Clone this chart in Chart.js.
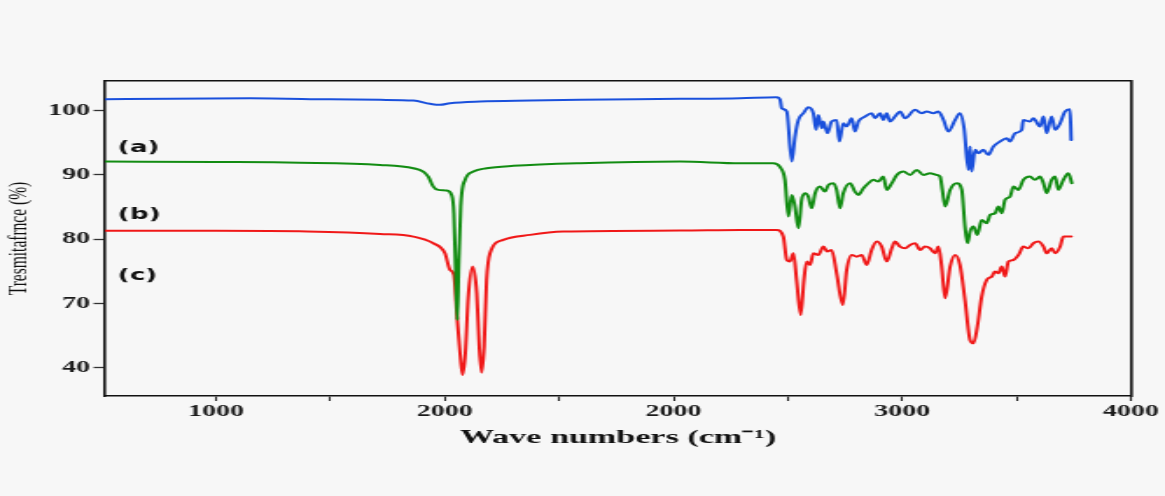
<!DOCTYPE html>
<html><head><meta charset="utf-8">
<script src="https://cdn.jsdelivr.net/npm/chart.js@4.4.1/dist/chart.umd.min.js"></script>
<style>
html,body{margin:0;padding:0;background:#f7f7f7;}
</style></head>
<body>
<canvas id="c" width="666" height="496" style="display:block;width:1165px;height:496px;"></canvas>
<script>
// ---- data (wavenumber axis units / transmittance axis units) ----
const blueX = [515, 800, 1150, 1500, 1717, 1863, 1936, 1979, 2023, 2154, 2373, 2591, 3029, 3291, 3451, 3466, 3473, 3495, 3517, 3531, 3546, 3568, 3589, 3611, 3623, 3633, 3648, 3655, 3673, 3691, 3713, 3725, 3742, 3757, 3779, 3793, 3808, 3837, 3866, 3881, 3903, 3917, 3932, 3946, 3968, 3990, 4012, 4056, 4085, 4107, 4136, 4158, 4180, 4201, 4231, 4252, 4270, 4289, 4296, 4303, 4318, 4333, 4354, 4376, 4398, 4427, 4456, 4471, 4493, 4522, 4529, 4558, 4573, 4602, 4617, 4631, 4653, 4668, 4690, 4711, 4733, 4738];
const blueY = [101.75, 101.85, 101.9, 101.75, 101.67, 101.56, 101.05, 100.89, 101.15, 101.41, 101.56, 101.67, 101.82, 101.93, 102.08, 101.67, 100.37, 99.85, 92.07, 95.96, 98.55, 99.59, 100.53, 99.59, 97.0, 99.33, 97.26, 98.29, 96.48, 98.29, 98.55, 95.18, 98.04, 97.52, 98.81, 96.74, 98.29, 99.07, 99.59, 98.81, 99.59, 98.55, 99.59, 98.29, 99.07, 99.85, 98.81, 100.11, 99.59, 99.85, 99.59, 99.85, 98.55, 96.74, 98.55, 99.59, 97.26, 90.77, 94.40, 90.51, 93.89, 93.37, 93.89, 93.11, 94.40, 95.18, 95.70, 95.18, 96.48, 97.0, 98.55, 98.29, 98.81, 97.52, 99.07, 96.48, 99.07, 97.0, 98.04, 99.85, 100.21, 95.44];

const greenX = [515, 1000, 1367, 1717, 1863, 1906, 1928, 1950, 1972, 2008, 2030, 2040, 2049, 2055, 2061, 2070, 2089, 2125, 2183, 2300, 2591, 3029, 3291, 3436, 3466, 3487, 3502, 3517, 3531, 3546, 3560, 3575, 3589, 3604, 3619, 3640, 3662, 3677, 3699, 3713, 3728, 3742, 3772, 3793, 3808, 3830, 3852, 3874, 3895, 3917, 3932, 3954, 3976, 4005, 4034, 4063, 4092, 4121, 4150, 4165, 4175, 4187, 4209, 4238, 4260, 4274, 4285, 4296, 4311, 4328, 4347, 4369, 4384, 4405, 4420, 4435, 4449, 4471, 4486, 4508, 4529, 4558, 4580, 4602, 4617, 4631, 4653, 4668, 4682, 4704, 4726, 4741];
const greenY = [92.06, 92.0, 91.9, 91.55, 91.03, 90.51, 89.73, 88.18, 87.66, 87.56, 86.88, 84.03, 73.65, 67.43, 75.73, 85.07, 89.22, 90.51, 91.03, 91.40, 91.81, 92.07, 91.81, 91.81, 91.19, 89.22, 83.51, 86.88, 85.07, 81.69, 86.10, 87.14, 86.62, 84.81, 87.14, 88.18, 87.40, 88.44, 88.70, 87.66, 84.81, 87.14, 88.70, 87.40, 86.88, 87.92, 88.70, 89.22, 88.96, 89.73, 87.66, 88.70, 89.99, 90.51, 89.99, 90.77, 89.99, 90.25, 89.99, 89.73, 87.66, 85.07, 87.66, 88.70, 87.66, 81.95, 79.36, 81.17, 81.95, 80.66, 82.99, 82.47, 83.77, 84.03, 85.07, 84.03, 86.10, 86.62, 88.18, 87.66, 89.22, 89.73, 89.22, 89.73, 88.70, 87.14, 89.22, 89.73, 87.66, 89.22, 90.25, 88.70];

const redX = [515, 1000, 1400, 1717, 1863, 1950, 2001, 2023, 2040, 2055, 2067, 2078, 2090, 2103, 2122, 2140, 2151, 2161, 2172, 2183, 2198, 2256, 2373, 2518, 3029, 3291, 3451, 3480, 3495, 3509, 3524, 3538, 3556, 3570, 3582, 3597, 3611, 3633, 3655, 3672, 3691, 3713, 3740, 3757, 3779, 3801, 3823, 3844, 3866, 3888, 3910, 3932, 3954, 3968, 3990, 4012, 4034, 4056, 4078, 4099, 4121, 4143, 4158, 4172, 4187, 4209, 4231, 4252, 4274, 4296, 4311, 4328, 4347, 4369, 4391, 4405, 4420, 4435, 4449, 4464, 4486, 4508, 4529, 4551, 4573, 4595, 4617, 4631, 4653, 4668, 4690, 4704, 4738];
const redY = [81.3, 81.3, 81.2, 80.81, 80.40, 79.36, 77.80, 75.21, 74.43, 67.43, 62.24, 58.87, 62.24, 71.06, 75.73, 71.58, 63.28, 59.23, 63.28, 73.65, 77.80, 79.88, 80.66, 81.17, 81.33, 81.43, 81.43, 80.40, 76.76, 76.51, 77.80, 73.65, 68.20, 73.65, 76.51, 75.99, 77.80, 77.54, 78.84, 78.06, 78.32, 74.69, 69.76, 75.21, 77.54, 77.28, 77.54, 75.99, 78.32, 79.62, 78.84, 76.51, 78.58, 79.62, 78.84, 78.58, 79.10, 79.36, 78.32, 78.84, 78.58, 77.80, 78.84, 75.73, 70.80, 75.73, 77.54, 75.99, 70.54, 64.31, 63.79, 66.39, 71.06, 73.65, 74.17, 74.95, 74.69, 75.73, 74.17, 76.51, 76.76, 77.54, 78.84, 78.58, 79.36, 79.62, 78.84, 77.80, 78.58, 77.80, 78.84, 80.40, 80.40];

const seriesTags = ['(a)', '(b)', '(c)'];
const xTickValues = [1000, 1500, 2000, 2500, 3000, 3500, 4000, 4500, 5000];
const xTickLabels = ['1000', '', '2000', '', '2000', '', '3000', '', '4000'];
const yTickValues = [60, 70, 80, 90, 100];
const yTickLabels = ['40', '70', '80', '90', '100'];
const xTitle = 'Wave numbers (cm\u207B\u00B9)';
const yTitle = 'Tresmitafrnce (%)';

// ---- chart ----
const serif = '"Liberation Serif", "Times New Roman", serif';
function mk(label, xs, ys, color) {
  return {
    label, data: xs.map((x, i) => ({x, y: ys[i]})),
    borderColor: color, borderWidth: 2, pointRadius: 0,
    cubicInterpolationMode: 'monotone', fill: false,
    borderJoinStyle: 'round', borderCapStyle: 'round',
    xAxisID: 'x', yAxisID: 'y'
  };
}
const tagPlugin = {
  id: 'tags',
  afterDatasetsDraw(chart) {
    const {ctx} = chart, x = chart.scales.x, y = chart.scales.y;
    const tagX = 571, tagY = [94.2, 83.8, 74.3];
    ctx.save();
    ctx.font = 'bold 15px "DejaVu Sans", sans-serif';
    ctx.fillStyle = '#111';
    ctx.textAlign = 'left';
    ctx.textBaseline = 'middle';
    seriesTags.forEach((t, i) => ctx.fillText(t, x.getPixelForValue(tagX), y.getPixelForValue(tagY[i])));
    ctx.restore();
  }
};
const frame = {color: '#111', width: 1.6};
new Chart(document.getElementById('c'), {
  type: 'line',
  data: {datasets: [
    mk(seriesTags[0], blueX, blueY, '#1a50dc'),
    mk(seriesTags[1], greenX, greenY, '#128c12'),
    mk(seriesTags[2], redX, redY, '#f01818')
  ]},
  options: {
    responsive: false, devicePixelRatio: 1, animation: false,
    layout: {padding: {left: 0, right: 19.4, top: 81, bottom: 46}},
    plugins: {legend: {display: false}, tooltip: {enabled: false}},
    scales: {
      x: {
        type: 'linear', position: 'bottom', min: 515, max: 5000,
        afterBuildTicks: a => { a.ticks = xTickValues.map(v => ({value: v})); },
        afterFit: a => { a.height = 54; },
        ticks: {callback: (v, i) => xTickLabels[i], font: {family: serif, size: 16, weight: 'bold'}, color: '#1a1a1a', padding: 1, maxRotation: 0, autoSkip: false},
        grid: {drawOnChartArea: false, tickLength: 5, tickColor: '#222', tickWidth: 1.1},
        border: frame,
        title: {display: true, text: xTitle, font: {family: serif, size: 19.5, weight: 'bold'}, color: '#111', padding: {top: 0, bottom: 0}}
      },
      y: {
        type: 'linear', position: 'left', min: 55.6, max: 104.6,
        afterBuildTicks: a => { a.ticks = yTickValues.map(v => ({value: v})); },
        afterFit: a => { a.width = 60; },
        ticks: {callback: (v, i) => yTickLabels[i], font: {family: serif, size: 16, weight: 'bold'}, color: '#1a1a1a', padding: 2, autoSkip: false},
        grid: {drawOnChartArea: false, tickLength: 6.5, tickColor: '#333', tickWidth: 1.3},
        border: frame,
        title: {display: true, text: yTitle, font: {family: serif, size: 15.5}, color: '#111', padding: {top: 2, bottom: 0}}
      },
      x2: {
        type: 'linear', position: 'top', display: true,
        grid: {display: false, drawTicks: false}, ticks: {display: false},
        border: frame, afterFit: a => { a.height = 0; }
      },
      y2: {
        type: 'linear', position: 'right', display: true,
        grid: {display: false, drawTicks: false}, ticks: {display: false},
        border: frame, afterFit: a => { a.width = 0; }
      }
    }
  },
  plugins: [tagPlugin]
});
</script>
</body></html>
